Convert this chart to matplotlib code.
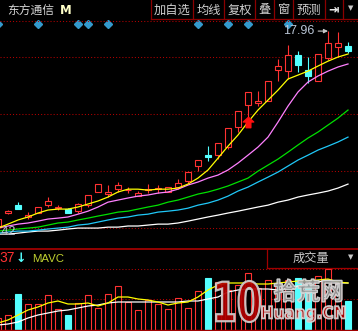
import matplotlib
matplotlib.use('Agg')
import matplotlib.pyplot as plt
import numpy as np
from matplotlib.path import Path
from matplotlib.textpath import TextPath
from matplotlib.font_manager import FontProperties
from matplotlib.patches import PathPatch
from matplotlib.transforms import Affine2D, blended_transform_factory

plt.rcParams['font.family'] = ['Noto Sans CJK SC', 'DejaVu Sans']

# ---------------- data ----------------
stock_name = '东方通信'
period_label = 'M'
buttons = ['加自选', '均线', '复权', '叠', '窗', '预测']

opens  = [7.59, 8.28, 8.70, 8.07, 8.28, 8.70, 8.57, 8.49, 8.38, 8.70, 9.40, 9.29,
          9.55, 9.48, 9.18, 9.50, 9.55, 9.40, 9.66, 9.98, 10.78, 11.36, 11.36, 11.79,
          12.85, 14.02, 14.13, 14.24, 15.89, 15.83, 16.68, 15.89, 15.30, 16.52, 17.11, 17.16]
highs  = [8.07, 8.44, 8.86, 8.33, 8.60, 9.13, 8.70, 8.54, 8.81, 9.24, 9.82, 9.77,
          9.93, 9.66, 9.45, 9.82, 9.77, 9.66, 10.09, 10.46, 11.10, 11.84, 12.00, 12.80,
          13.70, 14.72, 14.77, 15.30, 16.47, 17.22, 16.90, 16.58, 16.74, 17.96, 17.91, 17.38]
lows   = [7.42, 8.22, 8.49, 7.96, 8.28, 8.60, 8.44, 8.28, 8.28, 8.60, 9.40, 9.13,
          9.40, 9.34, 9.18, 9.34, 9.34, 9.40, 9.55, 9.87, 10.51, 11.04, 11.15, 11.68,
          12.59, 13.23, 13.97, 14.24, 15.30, 15.41, 15.78, 15.19, 15.30, 16.42, 16.58, 16.79]
closes = [7.96, 8.38, 8.49, 8.17, 8.60, 8.92, 8.62, 8.28, 8.76, 9.24, 9.82, 9.40,
          9.77, 9.53, 9.34, 9.55, 9.61, 9.66, 9.87, 10.46, 11.10, 11.26, 12.00, 12.80,
          13.70, 14.72, 14.24, 15.30, 16.10, 16.68, 16.15, 15.57, 16.74, 17.32, 17.32, 16.90]

ma5  = [7.48, 7.69, 7.91, 8.07, 8.28, 8.44, 8.49, 8.49, 8.60, 8.76, 8.92, 9.13,
        9.40, 9.55, 9.55, 9.50, 9.55, 9.55, 9.61, 9.82, 10.14, 10.57, 11.20, 11.84,
        12.43, 13.12, 13.76, 14.29, 14.82, 15.41, 15.62, 15.83, 16.10, 16.36, 16.58, 16.74]
ma10 = [7.48, 7.59, 7.69, 7.75, 7.85, 7.96, 8.01, 8.07, 8.22, 8.38, 8.60, 8.86,
        8.97, 9.08, 9.18, 9.24, 9.34, 9.40, 9.55, 9.77, 9.93, 10.14, 10.30, 10.57,
        10.94, 11.36, 11.79, 12.32, 13.12, 13.97, 14.72, 15.25, 15.57, 15.83, 16.05, 16.21]
ma20 = [7.32, 7.37, 7.43, 7.48, 7.53, 7.64, 7.75, 7.80, 7.91, 8.01, 8.12, 8.22,
        8.33, 8.38, 8.49, 8.60, 8.70, 8.86, 8.97, 9.13, 9.29, 9.40, 9.55, 9.72,
        9.93, 10.14, 10.51, 10.83, 11.15, 11.52, 11.90, 12.27, 12.59, 12.96, 13.33, 13.76]
ma30 = [7.21, 7.27, 7.32, 7.32, 7.37, 7.43, 7.48, 7.53, 7.64, 7.69, 7.80, 7.91,
        8.01, 8.07, 8.17, 8.22, 8.33, 8.38, 8.44, 8.54, 8.70, 8.81, 8.97, 9.18,
        9.45, 9.66, 9.93, 10.19, 10.46, 10.78, 11.10, 11.36, 11.63, 11.84, 12.06, 12.32]
ma60 = [7.16, 7.16, 7.21, 7.27, 7.32, 7.32, 7.37, 7.43, 7.48, 7.48, 7.48, 7.53,
        7.53, 7.59, 7.59, 7.64, 7.69, 7.69, 7.75, 7.85, 7.96, 8.07, 8.17, 8.28,
        8.38, 8.49, 8.60, 8.70, 8.86, 8.97, 9.13, 9.24, 9.34, 9.45, 9.61, 9.82]

volumes  = [6.0, 7.5, 18.0, 13.0, 13.0, 17.5, 10.5, 7.5, 13.5, 17.5, 11.0, 18.0,
            22.0, 14.0, 10.0, 15.0, 13.0, 10.5, 16.0, 11.0, 19.5, 26.0, 24.0, 20.0,
            22.5, 28.5, 21.0, 25.0, 23.5, 25.0, 26.0, 22.5, 27.0, 30.5, 23.5, 14.5]
vol_ma5  = [3.5, 5.0, 7.5, 10.0, 11.5, 13.5, 14.5, 13.0, 13.0, 13.5, 12.0, 13.5,
            16.5, 16.5, 15.5, 15.0, 14.0, 12.5, 13.5, 14.0, 16.5, 20.0, 22.5, 23.5,
            23.5, 23.5, 23.0, 23.0, 23.5, 24.0, 24.5, 24.5, 25.0, 25.5, 24.0, 23.5]
vol_ma10 = [2.5, 3.0, 4.0, 6.0, 7.5, 8.5, 9.5, 10.0, 11.0, 12.0, 12.5, 13.5,
            14.0, 14.0, 14.0, 14.0, 14.0, 14.0, 14.0, 14.5, 14.5, 15.5, 16.5, 19.0,
            20.0, 20.5, 20.5, 20.5, 20.0, 21.0, 22.0, 23.0, 24.0, 25.0, 23.5, 23.5]

info_idx = [0, 4, 8, 9, 11, 20, 23, 25, 29]
signal_idx = [25]
grid_prices = [16.58, 13.55, 10.51, 7.48]
vol_grid = [30.5, 15.5]
vol_header = '37'
vol_ind = 'MAVC'
vol_name = '成交量'

# ---------------- style ----------------
RED = '#FF3232'
CYAN = '#54FFFF'
DKRED = '#A00000'
DOTRED = '#B40000'
W, H = 358, 331

fig = plt.figure(figsize=(W / 100, H / 100), dpi=100)
fig.patch.set_facecolor('black')

def frac_rect(x0, y0, x1, y1):
    return [x0 / W, 1 - y1 / H, (x1 - x0) / W, (y1 - y0) / H]

ax = fig.add_axes(frac_rect(0, 20, W, 248))
vax = fig.add_axes(frac_rect(0, 249, W, 330))
for a in (ax, vax):
    a.set_facecolor('black')
    a.set_axis_off()
    a.set_xlim(0.2, 36.0)
ax.set_ylim(6.42, 18.55)
vax.set_ylim(0, 40.5)

o, h, l, c = map(np.array, (opens, highs, lows, closes))
idx = np.arange(len(o))
up = c >= o
blo = np.minimum(o, c)
bhi = np.maximum(o, c)
cols = np.where(up, RED, CYAN)

for gp in grid_prices:
    ax.axhline(gp, color=DOTRED, lw=0.75, ls=(0, (1, 2)), zorder=1)
for gv in vol_grid:
    vax.axhline(gv, color=DOTRED, lw=0.75, ls=(0, (1, 2)), zorder=1)

# candles
ax.vlines(idx, bhi, h, colors=cols, lw=0.8, zorder=3)
ax.vlines(idx, l, blo, colors=cols, lw=0.8, zorder=3)
bh = np.maximum(bhi - blo, 0.02)
ax.bar(idx[up], bh[up], bottom=blo[up], width=0.62, facecolor='black',
       edgecolor=RED, lw=0.8, zorder=4)
ax.bar(idx[~up], bh[~up], bottom=blo[~up], width=0.62, facecolor=CYAN,
       edgecolor=CYAN, lw=0.8, zorder=4)

# moving averages
for series, colr in ((ma60, '#FFFFFF'), (ma30, '#20C8F8'), (ma20, '#00E000'),
                     (ma10, '#FF80FF'), (ma5, '#FFFF00')):
    ax.plot(idx, series, color=colr, lw=0.9, zorder=5)

# info diamonds
trans = blended_transform_factory(ax.transData, ax.transAxes)
ax.plot(info_idx, [0.9825] * len(info_idx), transform=trans, ls='none',
        marker='D', markersize=4.2, color='#3399CC', clip_on=False, zorder=6)

# signal arrow
arrow_path = Path([(0, 1), (-1, 0.1), (-0.45, 0.1), (-0.45, -1), (0.45, -1),
                   (0.45, 0.1), (1, 0.1), (0, 1)])
sig = np.array(signal_idx)
ax.plot(sig, l[sig] - 0.11, ls='none', marker=arrow_path, markersize=7.5,
        color='#FF1010', zorder=6)

# max / min labels
imax = int(np.argmax(h))
ax.annotate(f'{h[imax]:.2f}', xy=(imax, h[imax]), xytext=(-14, 0),
            textcoords='offset pixels', ha='right', va='center',
            color='#B8C4D4', fontsize=9, family='Liberation Sans',
            annotation_clip=False, zorder=7,
            arrowprops=dict(arrowstyle='-|>', color='#C8C8C8', lw=0.8,
                            shrinkA=1, shrinkB=0, mutation_scale=6))
imin = int(np.argmin(l))
ax.annotate(f'{l[imin]:.2f}', xy=(imin, l[imin]), xytext=(18, -3),
            textcoords='offset pixels', ha='right', va='center',
            color='#B8C4D4', fontsize=9, family='Liberation Sans',
            annotation_clip=False, zorder=7)

# volume
vol = np.array(volumes)
vax.bar(idx[up], vol[up], width=0.62, facecolor='black', edgecolor=RED, lw=0.8, zorder=3)
vax.bar(idx[~up], vol[~up], width=0.62, facecolor=CYAN, edgecolor=CYAN, lw=0.8, zorder=3)
vax.plot(idx, vol_ma10, color='#FFFFFF', lw=0.9, zorder=5)
vax.plot(idx, vol_ma5, color='#FFFF00', lw=0.9, zorder=5)

# ---------------- overlay decorations ----------------
oax = fig.add_axes([0, 0, 1, 1])
oax.set_xlim(0, W)
oax.set_ylim(H, 0)
oax.set_axis_off()
oax.patch.set_alpha(0)

oax.text(7, 10.5, stock_name, color='#D8D8D8', fontsize=8.5, ha='left', va='center')
oax.text(60, 10, period_label, color='#FFFFC8', fontsize=8.5, ha='left', va='center',
         fontweight='bold', family='DejaVu Sans')

bx = [151, 193, 224, 255, 274, 293, 325, 343, 358]
for x in bx[:-1]:
    oax.plot([x, x], [0, 19], color='#8B0000', lw=0.9)
oax.plot([151, W], [19, 19], color='#8B0000', lw=0.9)
for i, t in enumerate(buttons):
    oax.text((bx[i] + bx[i + 1]) / 2, 10, t, color='#D0D0D0', fontsize=8.8,
             ha='center', va='center')
oax.text(334, 9.5, '⇥', color='#E8E8E8', fontsize=9, ha='center', va='center',
         family='DejaVu Sans', fontweight='bold')
oax.text(351, 8.5, '▼', color='#C8C8C8', fontsize=5, ha='center', va='center',
         family='DejaVu Sans')

oax.plot([0, W], [20.5, 20.5], color=DOTRED, lw=0.75, ls=(0, (1, 2)))
oax.plot([0, W], [248.5, 248.5], color=DKRED, lw=1.3)
oax.plot([0, W], [330, 330], color=DKRED, lw=1.0)
oax.plot([266.5, 266.5], [248.5, 267.5], color=DKRED, lw=0.9)
oax.plot([266.5, W], [267.5, 267.5], color=DKRED, lw=0.9)

oax.text(-1, 258.5, vol_header, color=RED, fontsize=10, ha='left', va='center',
         family='Liberation Sans')
oax.text(20.5, 258.5, '↓', color=CYAN, fontsize=9, ha='center', va='center',
         family='DejaVu Sans', fontweight='bold')
oax.text(32, 258.5, vol_ind, color='#C0D030', fontsize=8.2, ha='left', va='center',
         family='Liberation Sans')
oax.text(311, 258.5, vol_name, color='#C8C8C8', fontsize=8.8, ha='center', va='center')
oax.text(350.5, 257, '▼', color='#C8C8C8', fontsize=5, ha='center', va='center',
         family='DejaVu Sans')

# watermark
def stamp(text, x0, y0, x1, y1, fc, ec, lw, family, alpha=0.92):
    tp = TextPath((0, 0), text, size=50,
                  prop=FontProperties(family=family, weight='bold'))
    b = tp.get_extents()
    sx = (x1 - x0) / b.width
    sy = (y1 - y0) / b.height
    tr = Affine2D().translate(-b.x0, -b.y1).scale(sx, -sy).translate(x0, y0)
    oax.add_patch(PathPatch(tr.transform_path(tp), fc=fc, ec=ec, lw=lw,
                            alpha=alpha, zorder=10))

stamp('10', 216, 281, 260, 322, '#B00000', '#D0D0D0', 1.6, 'DejaVu Sans')
stamp('拾荒网', 274, 279, 342, 302, '#9A9A9A', '#D8D8D8', 1.0, 'Noto Sans CJK SC')
stamp('Huang.CN', 262, 306, 345, 322, '#B00000', '#D8D8D8', 1.3, 'DejaVu Sans')

fig.savefig('out.png', dpi=100, facecolor='black')
